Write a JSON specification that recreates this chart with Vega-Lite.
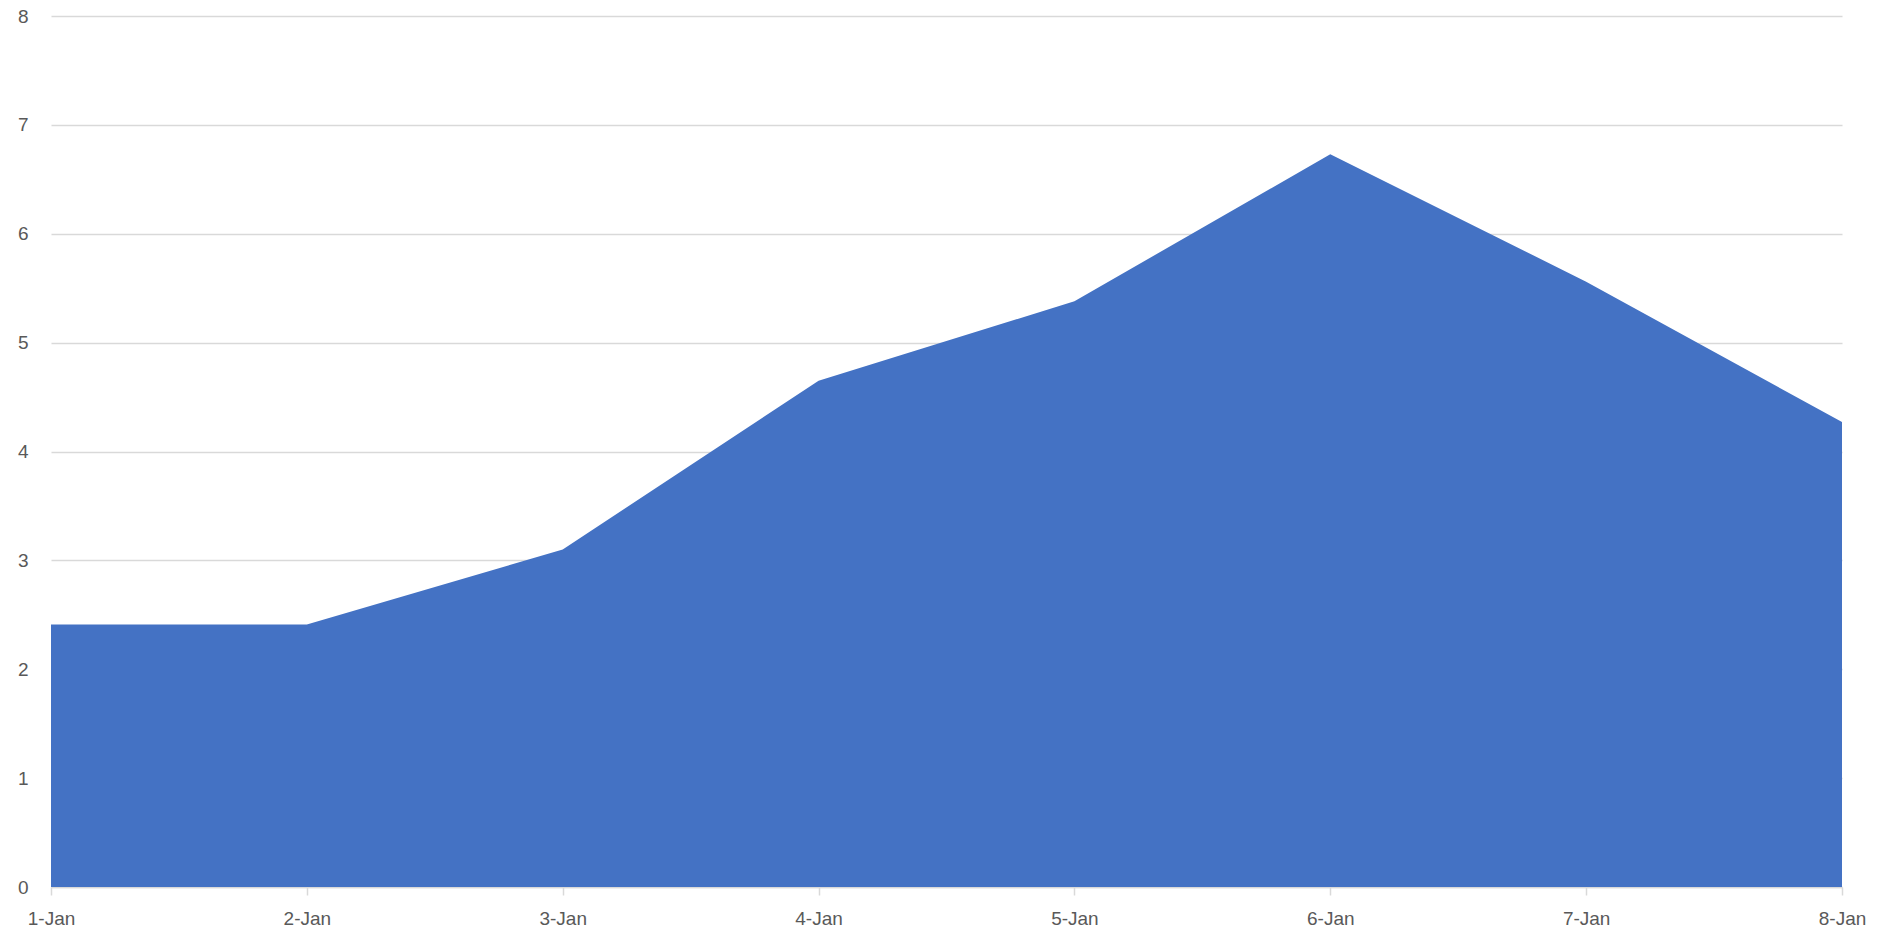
{
  "$schema": "https://vega.github.io/schema/vega-lite/v6.json",
  "width": 1791,
  "height": 871,
  "autosize": "none",
  "padding": {"left": 51, "top": 16, "right": 36, "bottom": 47},
  "background": "white",
  "config": {
    "view": {"stroke": null},
    "font": "Liberation Sans",
    "axis": {"labelFont": "Liberation Sans", "labelColor": "#595959", "labelFontSize": 19}
  },
  "data": {
    "values": [
      {"date": "1-Jan", "value": 2.41},
      {"date": "2-Jan", "value": 2.41},
      {"date": "3-Jan", "value": 3.10},
      {"date": "4-Jan", "value": 4.65},
      {"date": "5-Jan", "value": 5.38},
      {"date": "6-Jan", "value": 6.73},
      {"date": "7-Jan", "value": 5.56},
      {"date": "8-Jan", "value": 4.27}
    ]
  },
  "mark": {"type": "area", "color": "#4472C4", "opacity": 1},
  "encoding": {
    "x": {
      "field": "date",
      "type": "ordinal",
      "sort": null,
      "scale": {"type": "point", "padding": 0},
      "axis": {
        "title": null,
        "labelAngle": 0,
        "domainColor": "#d9d9d9",
        "domainWidth": 1.5,
        "tickColor": "#d9d9d9",
        "tickWidth": 1.5,
        "tickSize": 8,
        "labelPadding": 14,
        "grid": false
      }
    },
    "y": {
      "field": "value",
      "type": "quantitative",
      "scale": {"domain": [0, 8], "nice": false},
      "axis": {
        "title": null,
        "values": [0, 1, 2, 3, 4, 5, 6, 7, 8],
        "domain": false,
        "ticks": false,
        "labelPadding": 23,
        "grid": true,
        "gridColor": "#d9d9d9",
        "gridWidth": 1.5
      }
    }
  }
}
